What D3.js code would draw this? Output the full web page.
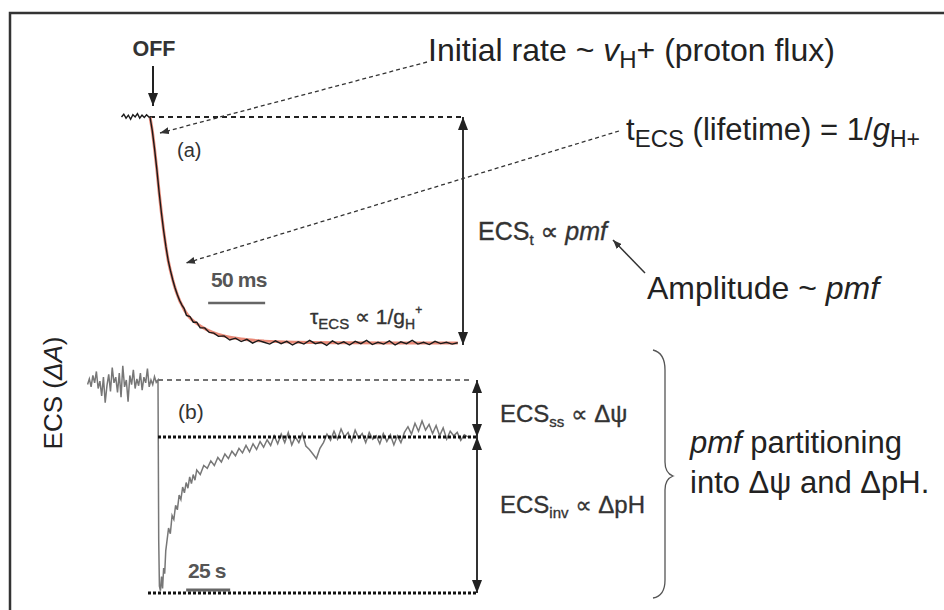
<!DOCTYPE html>
<html><head><meta charset="utf-8">
<script src="https://cdn.jsdelivr.net/npm/d3@7"></script>
<style>body{margin:0;background:#fff} svg{display:block}</style>
</head><body>
<svg id="c" width="944" height="610"></svg>
<script>
// ---- Panel (a): fast ECS decay after light OFF (time in ms, normalized ECS) ----
const aTime = [-25,-23,-21,-19,-17,-15,-13,-11,-9,-7,-5,-3,-1,0,2,4,6,8,10,12,14,16,18,20,22,24,26,28,30,32,35,38,41,44,48,52,56,60,65,70,75,80,85,90,95,100,105,110,115,120,125,130,135,140,145,150,155,160,165,170,175,180,185,190,195,200,205,210,215,220,225,230,235,240,245,250,255,260,265,270];
const aTrace = [1.0,1.012,0.995,1.008,0.99,1.01,1.0,1.015,0.995,1.008,0.998,1.01,1.0,1.0,0.94,0.86,0.77,0.67,0.58,0.5,0.43,0.37,0.325,0.285,0.25,0.22,0.195,0.175,0.16,0.13,0.125,0.1,0.1,0.075,0.075,0.055,0.052,0.038,0.04,0.022,0.03,0.015,0.025,0.008,0.02,0.012,0.004,0.018,0.006,0.016,0.0,0.014,0.004,0.02,0.006,0.012,-0.002,0.018,0.004,0.014,0.0,0.016,0.006,0.02,0.002,0.012,0.004,0.018,0.0,0.014,0.006,0.02,0.004,0.012,0.002,0.016,0.006,0.012,0.004,0.01];
const aFitTime = [0,2,4,6,8,10,12,14,16,18,20,22,24,26,28,30,35,40,50,60,70,80,100,130,170,220,270];
const aFit = [1.0,0.94,0.86,0.77,0.67,0.58,0.5,0.43,0.37,0.325,0.285,0.25,0.22,0.195,0.175,0.155,0.12,0.098,0.066,0.046,0.034,0.026,0.017,0.012,0.01,0.009,0.009];
const aLevels = [1, 0];          // dark-adapted baseline, ECS at full decay
const aScaleBar = [51, 101];     // 50 ms

// ---- Panel (b): slow ECS relaxation (time in s) ----
const bTime = [-40,-39,-38,-37,-36,-35,-34,-33,-32,-31,-30,-29,-28,-27,-26,-25,-24,-23,-22,-21,-20,-19,-18,-17,-16,-15,-14,-13,-12,-11,-10,-9,-8,-7,-6,-5,-4,-3,-2,-1,0,
  0.4,0.8,1.4,2.0,2.6,3.2,3.8,4.4,5,6,7,8,9,10,11,12,13,14,15,16,17,18,19,20,21,
  22,24,26,28,30,32,34,36,38,40,42,44,46,48,50,52,54,56,58,60,62,64,66,68,70,72,74,76,78,80,82,84,86,88,90,92,94,96,98,100,102,104,106,108,110,112,114,116,118,120,122,124,126,128,130,132,134,136,138,140,142,144,146,148,150,152,154,156,158,160,162,164,166,168,170,172,174,176];
const bTrace = [0.92,1.02,0.88,1.08,0.95,1.15,0.85,0.98,0.72,1.05,0.6,0.9,1.1,0.8,1.22,0.95,1.05,0.78,1.12,0.7,1.25,0.88,1.0,0.62,1.08,0.92,1.18,0.85,1.02,0.9,1.12,0.82,1.05,0.95,1.2,0.88,1.0,0.92,1.06,0.96,1.0,
  -1.8,-2.62,-2.7,-2.45,-2.66,-2.3,-2.4,-2.0,-1.85,-1.6,-1.7,-1.38,-1.45,-1.2,-1.28,-1.02,-1.1,-0.88,-0.98,-0.8,-0.9,-0.7,-0.82,-0.66,-0.76,
  -0.58,-0.66,-0.5,-0.55,-0.42,-0.5,-0.36,-0.44,-0.3,-0.38,-0.25,-0.33,-0.2,-0.28,-0.15,-0.26,-0.12,-0.22,-0.08,-0.18,-0.05,-0.15,0.02,-0.12,0.05,-0.1,0.08,-0.14,0.0,-0.1,0.06,-0.16,-0.22,-0.3,-0.38,-0.2,-0.1,0.05,-0.06,0.1,-0.04,0.14,0.0,0.08,-0.08,0.12,-0.02,0.06,-0.1,0.08,-0.04,0.02,-0.12,0.06,-0.08,0.04,-0.14,0.02,-0.1,0.08,0.18,0.05,0.24,0.1,0.28,0.12,0.22,0.06,0.2,0.02,0.16,-0.04,0.1,0.02,0.08,-0.06,0.04,0.0];
const bLevels = [1, 0, -2.74];   // light steady state, dark baseline, inverted minimum
const bScaleBar = [16, 41];      // 25 s

const svg = d3.select('#c');
const FONT = "Arial, 'Liberation Sans', sans-serif";
svg.style('font-family', FONT);

// markers
const defs = svg.append('defs');
function marker(id, w, h, color) {
  defs.append('marker').attr('id', id).attr('viewBox', `0 0 ${w} ${h}`)
    .attr('refX', w).attr('refY', h/2).attr('markerWidth', w).attr('markerHeight', h)
    .attr('markerUnits', 'userSpaceOnUse').attr('orient', 'auto-start-reverse')
    .append('path').attr('d', `M0,0L${w},${h/2}L0,${h}Z`).attr('fill', color);
}
marker('big', 13, 10, '#222');
marker('small', 9, 7, '#333');

// frame (top & left only visible)
svg.append('path').attr('d', 'M10,610 L10,13 L944,13').attr('fill', 'none')
  .attr('stroke', '#333').attr('stroke-width', 2.5);

// scales
const xa = d3.scaleLinear().domain([0, 270]).range([150, 457.8]);
const ya = d3.scaleLinear().domain([0, 1]).range([345, 117]);
const xb = d3.scaleLinear().domain([0, 176]).range([158, 467.8]);
const yb = d3.scaleLinear().domain([bLevels[2], bLevels[0]]).range([593, 380]);

// ---- panel (a) ----
svg.append('line').attr('x1', xa(0)).attr('x2', 461).attr('y1', ya(aLevels[0])).attr('y2', ya(aLevels[0]))
  .attr('stroke', '#222').attr('stroke-width', 1.8).attr('stroke-dasharray', '5,4');
const fitLine = d3.line().x((d, i) => xa(aFitTime[i])).y(d => ya(d)).curve(d3.curveMonotoneX);
svg.append('path').attr('d', fitLine(aFit)).attr('fill', 'none').attr('stroke', '#e98a78').attr('stroke-width', 3);
const aLine = d3.line().x((d, i) => xa(aTime[i])).y(d => ya(d));
svg.append('path').attr('d', aLine(aTrace)).attr('fill', 'none').attr('stroke', '#1a1a1a').attr('stroke-width', 1.4);

// amplitude arrow
svg.append('line').attr('x1', 463).attr('x2', 463).attr('y1', ya(aLevels[0])).attr('y2', ya(aLevels[1]))
  .attr('stroke', '#333').attr('stroke-width', 2)
  .attr('marker-start', 'url(#big)').attr('marker-end', 'url(#big)');
// OFF arrow
svg.append('line').attr('x1', xa(0) + 3).attr('x2', xa(0) + 3).attr('y1', 66).attr('y2', 106)
  .attr('stroke', '#222').attr('stroke-width', 2).attr('marker-end', 'url(#big)');
svg.append('text').attr('x', xa(0) + 4).attr('y', 56).attr('text-anchor', 'middle')
  .attr('font-weight', 'bold').attr('font-size', 21.5).attr('fill', '#333').text('OFF');
svg.append('text').attr('x', 177).attr('y', 157).attr('font-size', 20).attr('fill', '#333').text('(a)');

// scale bar 50 ms
svg.append('line').attr('x1', xa(aScaleBar[0])).attr('x2', xa(aScaleBar[1])).attr('y1', 303).attr('y2', 303)
  .attr('stroke', '#666').attr('stroke-width', 2.5);
svg.append('text').attr('x', 211).attr('y', 287).attr('font-size', 21).attr('font-weight', 'bold')
  .attr('fill', '#555').attr('letter-spacing', -0.8).text('50 ms');

// dashed pointer arrows
function dashArrow(x1, y1, x2, y2) {
  svg.append('line').attr('x1', x1).attr('y1', y1).attr('x2', x2).attr('y2', y2)
    .attr('stroke', '#333').attr('stroke-width', 1.3).attr('stroke-dasharray', '4,3')
    .attr('marker-end', 'url(#small)');
}
dashArrow(427, 62, 160, 133);
dashArrow(619, 131, 186, 263);
// solid pointer to pmf
svg.append('line').attr('x1', 645).attr('y1', 273).attr('x2', 613).attr('y2', 240)
  .attr('stroke', '#333').attr('stroke-width', 1.5).attr('marker-end', 'url(#small)');

// big annotation texts
const big = 32;
let t = svg.append('text').attr('x', 428).attr('y', 61).attr('font-size', big).attr('fill', '#222');
t.append('tspan').text('Initial rate ~ ');
t.append('tspan').attr('font-style', 'italic').text('v');
t.append('tspan').attr('font-size', 24).attr('dy', 7).text('H');
t.append('tspan').attr('dy', -7).text('+ (proton flux)');

t = svg.append('text').attr('x', 626).attr('y', 140).attr('font-size', 31).attr('fill', '#222');
t.append('tspan').text('t');
t.append('tspan').attr('font-size', 24).attr('dy', 7).text('ECS');
t.append('tspan').attr('dy', -7).text(' (lifetime) = 1/');
t.append('tspan').attr('font-style', 'italic').text('g');
t.append('tspan').attr('font-size', 23).attr('dy', 7).text('H+');

t = svg.append('text').attr('x', 647).attr('y', 299).attr('font-size', big).attr('fill', '#222');
t.append('tspan').text('Amplitude ~ ');
t.append('tspan').attr('font-style', 'italic').text('pmf');

// small labels (slightly heavier, like the scanned original)
const PROP = "'DejaVu Sans', sans-serif";
function small(x, y, size) {
  return svg.append('text').attr('x', x).attr('y', y).attr('font-size', size).attr('fill', '#333')
    .attr('stroke', '#333').attr('stroke-width', 0.35);
}
t = small(478, 240, 25);
t.append('tspan').text('ECS');
t.append('tspan').attr('font-size', 15).attr('dy', 5).text('t');
t.append('tspan').attr('dy', -5).text(' ');
t.append('tspan').attr('font-family', PROP).attr('font-size', 25).text('∝');
t.append('tspan').text(' ');
t.append('tspan').attr('font-style', 'italic').text('pmf');

t = small(310, 324, 21);
t.append('tspan').text('τ');
t.append('tspan').attr('font-size', 15).attr('dy', 5).text('ECS');
t.append('tspan').attr('dy', -5).text(' ');
t.append('tspan').attr('font-family', PROP).attr('font-size', 21).text('∝');
t.append('tspan').text(' 1/g');
t.append('tspan').attr('font-size', 14).attr('dy', 5).text('H');
t.append('tspan').attr('font-size', 12).attr('dy', -15).text('+');

// ---- panel (b) ----
svg.append('line').attr('x1', xb(0)).attr('x2', 472).attr('y1', yb(bLevels[0])).attr('y2', yb(bLevels[0]))
  .attr('stroke', '#444').attr('stroke-width', 1.5).attr('stroke-dasharray', '5,4');
const bLine = d3.line().x((d, i) => xb(bTime[i])).y(d => yb(d));
svg.append('path').attr('d', bLine(bTrace)).attr('fill', 'none').attr('stroke', '#777').attr('stroke-width', 1.5);
svg.append('line').attr('x1', xb(0)).attr('x2', 478).attr('y1', yb(bLevels[1])).attr('y2', yb(bLevels[1]))
  .attr('stroke', '#111').attr('stroke-width', 3).attr('stroke-dasharray', '3,2');
// scale bar 25 s
svg.append('line').attr('x1', xb(bScaleBar[0])).attr('x2', xb(bScaleBar[1])).attr('y1', 590).attr('y2', 590)
  .attr('stroke', '#666').attr('stroke-width', 3);
svg.append('line').attr('x1', 148).attr('x2', 478).attr('y1', yb(bLevels[2])).attr('y2', yb(bLevels[2]))
  .attr('stroke', '#111').attr('stroke-width', 3).attr('stroke-dasharray', '3,2');

svg.append('line').attr('x1', 477).attr('x2', 477).attr('y1', yb(bLevels[0])).attr('y2', yb(bLevels[1]))
  .attr('stroke', '#333').attr('stroke-width', 2).attr('marker-start', 'url(#big)').attr('marker-end', 'url(#big)');
svg.append('line').attr('x1', 477).attr('x2', 477).attr('y1', yb(bLevels[1])).attr('y2', yb(bLevels[2]))
  .attr('stroke', '#333').attr('stroke-width', 2).attr('marker-start', 'url(#big)').attr('marker-end', 'url(#big)');

svg.append('text').attr('x', 178).attr('y', 419).attr('font-size', 21).attr('fill', '#333').text('(b)');
svg.append('text').attr('x', 188).attr('y', 578).attr('font-size', 21).attr('font-weight', 'bold')
  .attr('fill', '#555').attr('letter-spacing', -0.8).text('25 s');

t = small(500, 422, 24);
t.append('tspan').text('ECS');
t.append('tspan').attr('font-size', 15).attr('dy', 5).text('ss');
t.append('tspan').attr('dy', -5).text(' ');
t.append('tspan').attr('font-family', PROP).attr('font-size', 23).text('∝');
t.append('tspan').text(' Δψ');

t = small(500, 513, 24);
t.append('tspan').text('ECS');
t.append('tspan').attr('font-size', 15).attr('dy', 5).text('inv');
t.append('tspan').attr('dy', -5).text(' ');
t.append('tspan').attr('font-family', PROP).attr('font-size', 23).text('∝');
t.append('tspan').text(' ΔpH');

// brace
svg.append('path').attr('d', 'M653,350 Q665,353 665,370 L665,462 Q665,473 673,476 Q665,479 665,490 L665,580 Q665,596 653,598')
  .attr('fill', 'none').attr('stroke', '#555').attr('stroke-width', 1.3);

t = svg.append('text').attr('x', 690).attr('y', 453).attr('font-size', 31).attr('fill', '#222');
t.append('tspan').attr('font-style', 'italic').text('pmf');
t.append('tspan').text(' partitioning');
svg.append('text').attr('x', 690).attr('y', 493).attr('font-size', 31).attr('fill', '#222').text('into Δψ and ΔpH.');

// y axis title
t = svg.append('text').attr('transform', 'translate(62,393) rotate(-90)').attr('text-anchor', 'middle')
  .attr('font-size', 26).attr('fill', '#222');
t.append('tspan').text('ECS (');
t.append('tspan').attr('font-style', 'italic').text('ΔA');
t.append('tspan').text(')');
</script>
</body></html>
